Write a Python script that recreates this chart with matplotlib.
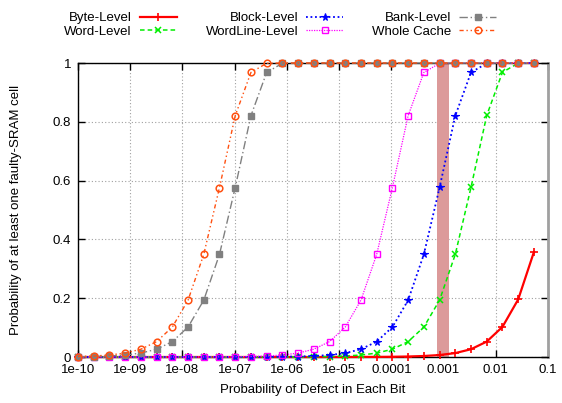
import matplotlib
matplotlib.use('Agg')
import matplotlib.pyplot as plt

plt.rcParams['font.family'] = ['Liberation Sans', 'DejaVu Sans']
plt.rcParams['font.size'] = 9.5

# defect probability per bit (x axis, doubles each step)
defect_prob = [1e-10, 2e-10, 4e-10, 8e-10, 1.6e-09, 3.2e-09, 6.4e-09, 1.28e-08,
               2.56e-08, 5.12e-08, 1.024e-07, 2.048e-07, 4.096e-07, 8.192e-07,
               1.6384e-06, 3.2768e-06, 6.5536e-06, 1.31072e-05, 2.62144e-05,
               5.24288e-05, 0.0001048576, 0.0002097152, 0.0004194304,
               0.0008388608, 0.0016777216, 0.0033554432, 0.0067108864,
               0.0134217728, 0.0268435456, 0.0536870912]

byte_level = [0, 0, 0, 0, 0, 0, 0, 0, 0, 0, 0, 0, 0, 0, 0, 0,
              0.0001, 0.0001, 0.0002, 0.0004, 0.0008, 0.0017, 0.0034, 0.0067,
              0.0133, 0.0265, 0.0524, 0.1025, 0.1957, 0.3569]
word_level = [0, 0, 0, 0, 0, 0, 0, 0, 0, 0, 0,
              0.0001, 0.0001, 0.0002, 0.0004, 0.0008, 0.0017, 0.0034, 0.0067,
              0.0133, 0.0265, 0.0523, 0.1018, 0.1933, 0.3493, 0.5770, 0.8216,
              0.9685, 0.9991, 1.0]
block_level = [0, 0, 0, 0, 0, 0, 0, 0, 0,
               0.0001, 0.0001, 0.0002, 0.0004, 0.0008, 0.0017, 0.0034, 0.0067,
               0.0133, 0.0265, 0.0523, 0.1018, 0.1933, 0.3491, 0.5766, 0.8208,
               0.9679, 0.9990, 1.0, 1.0, 1.0]
wordline_level = [0, 0, 0, 0, 0, 0,
                  0.0001, 0.0001, 0.0002, 0.0004, 0.0008, 0.0017, 0.0034, 0.0067,
                  0.0133, 0.0265, 0.0523, 0.1018, 0.1933, 0.3491, 0.5764, 0.8206,
                  0.9678, 0.9990, 1.0, 1.0, 1.0, 1.0, 1.0, 1.0]
bank_level = [0.0008, 0.0017, 0.0034, 0.0067, 0.0133, 0.0265, 0.0523, 0.1018,
              0.1933, 0.3491, 0.5764, 0.8206, 0.9678, 0.9990, 1.0, 1.0, 1.0,
              1.0, 1.0, 1.0, 1.0, 1.0, 1.0, 1.0, 1.0, 1.0, 1.0, 1.0, 1.0, 1.0]
whole_cache = [0.0017, 0.0034, 0.0067, 0.0133, 0.0265, 0.0523, 0.1018, 0.1933,
               0.3491, 0.5764, 0.8206, 0.9678, 0.9990, 1.0, 1.0, 1.0, 1.0, 1.0,
               1.0, 1.0, 1.0, 1.0, 1.0, 1.0, 1.0, 1.0, 1.0, 1.0, 1.0, 1.0]

# highlighted region around 1e-3
band = (0.00075, 0.00125)

x_ticks = [1e-10, 1e-9, 1e-8, 1e-7, 1e-6, 1e-5, 1e-4, 1e-3, 1e-2, 1e-1]
x_tick_labels = ['1e-10', '1e-09', '1e-08', '1e-07', '1e-06', '1e-05',
                 '0.0001', '0.001', '0.01', '0.1']
y_ticks = [0, 0.2, 0.4, 0.6, 0.8, 1]
y_tick_labels = ['0', '0.2', '0.4', '0.6', '0.8', '1']

fig = plt.figure(figsize=(5.62, 4.03), dpi=100)
ax = fig.add_axes([78 / 562, 1 - 357 / 403, 470 / 562, 294 / 403])

ax.axvspan(band[0], band[1], color='#dc9a9a', lw=0, zorder=1)

series = [
    ('Byte-Level', byte_level, dict(color='#ff0000', ls='-', lw=1.6, marker='+', ms=5.5, mew=1.2)),
    ('Word-Level', word_level, dict(color='#00ee00', ls=(0, (3, 2)), lw=1.1, marker='x', ms=4.5, mew=1.1)),
    ('Block-Level', block_level, dict(color='#0000ff', ls=(0, (1, 1.5)), lw=1.3, marker='*', ms=5.5, mew=0.8)),
    ('WordLine-Level', wordline_level, dict(color='#ff00ff', ls=(0, (1, 1)), lw=0.9, marker='s', ms=4.5,
                                            mfc='none', mew=1.0)),
    ('Bank-Level', bank_level, dict(color='#808080', ls=(0, (6, 2, 1, 2)), lw=1.0, marker='s', ms=3.8)),
    ('Whole Cache', whole_cache, dict(color='#ff5010', ls=(0, (3, 2, 1, 2, 1, 2)), lw=1.0, marker='o',
                                      ms=4.8, mfc='none', mew=1.1)),
]

handles = []
for name, vals, style in series:
    h, = ax.plot(defect_prob, vals, label=name, zorder=3, clip_on=False, **style)
    handles.append(h)

ax.set_xscale('log')
ax.set_xlim(1e-10, 0.1)
ax.set_ylim(0, 1)
ax.set_xticks(x_ticks)
ax.set_xticklabels(x_tick_labels)
ax.set_yticks(y_ticks)
ax.set_yticklabels(y_tick_labels)
ax.minorticks_off()
ax.tick_params(direction='in', length=5, width=1, top=True, right=True, pad=5,
               labelsize=9.5)
ax.grid(True, color='#a0a0a0', ls=(0, (1, 2)), lw=0.8)
ax.set_axisbelow(True)

for side in ['left', 'bottom', 'top']:
    ax.spines[side].set_color('black')
    ax.spines[side].set_linewidth(1.0)
ax.spines['right'].set_color('#a0a0a0')
ax.spines['right'].set_linewidth(2.0)

ax.set_xlabel('Probability of Defect in Each Bit', fontsize=9.5, labelpad=6)
ax.set_ylabel('Probability of at least one faulty-SRAM cell', fontsize=9.5, labelpad=22)

fig.legend(handles, [s[0] for s in series], ncol=3, loc='upper left',
           bbox_to_anchor=(55 / 562, 1 - 3 / 403), frameon=False, markerfirst=False,
           handlelength=2.8, handletextpad=0.6, columnspacing=2.2,
           labelspacing=0.1, fontsize=9.5, borderpad=0.2)

fig.savefig('out.png', dpi=100)
